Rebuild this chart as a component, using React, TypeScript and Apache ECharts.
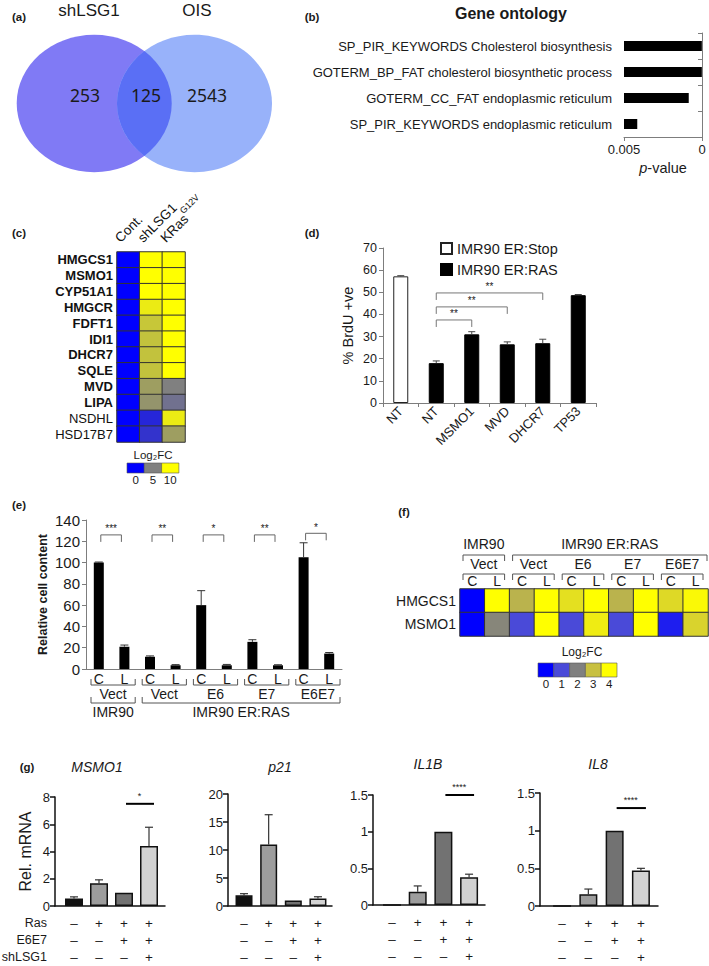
import React, { useEffect, useRef } from "react";
import * as echarts from "echarts";

const FONT = '"Liberation Sans", Arial, Helvetica, sans-serif';
const VENN_FONT = '"Noto Sans", "Liberation Sans", sans-serif';
const TXT = "#1a1a1a";
const AXIS_GRAY = "#7d7d7d";

// ---------- (a) Venn ----------
const vennSetNames = ["shLSG1", "OIS"];
const vennCounts = [253, 125, 2543]; // shLSG1 only, both, OIS only

// ---------- (b) Gene ontology ----------
const goTerms = [
  "SP_PIR_KEYWORDS Cholesterol biosynthesis",
  "GOTERM_BP_FAT cholesterol biosynthetic process",
  "GOTERM_CC_FAT endoplasmic reticulum",
  "SP_PIR_KEYWORDS endoplasmic reticulum",
];
const goPValues = [0.00001, 0.00001, 0.00085, 0.00415];
const goAxisMax = 0.005;

// ---------- (c) heatmap ----------
const cGenes = ["HMGCS1", "MSMO1", "CYP51A1", "HMGCR", "FDFT1", "IDI1", "DHCR7", "SQLE", "MVD", "LIPA", "NSDHL", "HSD17B7"];
const cBoldGenes = 10;
const cConditions = ["Cont.", "shLSG1", "KRas^G12V"];
const cCont = [0, 0, 0, 0, 0, 0, 0, 0, 0, 0, 0, 0];
const cShLSG1 = [10, 10, 10, 9.2, 7.8, 7.6, 7.6, 7.6, 6.2, 5.8, 1.5, 2];
const cKRas = [10, 10, 10, 10, 10, 10, 10, 10, 5, 4.4, 9.2, 6.2];
const cLegendTicks = ["0", "5", "10"];

// ---------- (d) BrdU ----------
const dCategories = ["NT", "NT", "MSMO1", "MVD", "DHCR7", "TP53"];
const dStop = [57.2, "-", "-", "-", "-", "-"];
const dRas = ["-", 18, 31, 26.5, 27, 48.7];
const dErr = [0.3, 1.0, 1.2, 1.1, 1.8, 0.3];
const dSigFrom = [1, 1, 1];
const dSigTo = [2, 3, 4];
const dSigLevel = [37.5, 43.4, 49.7];
const dSigStars = ["**", "**", "**"];

// ---------- (e) cell content ----------
const eLabels = ["C", "L", "C", "L", "C", "L", "C", "L", "C", "L"];
const eValues = [100, 21, 11.5, 3.5, 60, 3.5, 25.5, 3.5, 105, 14.5];
const eErr = [0.5, 1.5, 0.8, 0.6, 13.6, 0.8, 2, 0.5, 13.6, 1];
const eStars = ["***", "**", "*", "**", "*"];
const eSigLevel = [126, 126, 126, 126, 127.5];
const eVectors = ["Vect", "Vect", "E6", "E7", "E6E7"];
const eCellLines = ["IMR90", "IMR90 ER:RAS"];
const eCellLinePairs = [[0, 0], [1, 4]];

// ---------- (f) heatmap ----------
const fConditions = ["C", "L", "C", "L", "C", "L", "C", "L", "C", "L"];
const fGenes = ["HMGCS1", "MSMO1"];
const fHMGCS1 = [0, 4, 2.8, 4, 3.5, 4, 2.8, 4, 3.4, 3.9];
const fMSMO1 = [0, 2.1, 1.0, 4, 1.0, 3.7, 1.0, 4, 0.4, 3.3];
const fVectors = ["Vect", "Vect", "E6", "E7", "E6E7"];
const fCellLines = ["IMR90", "IMR90 ER:RAS"];
const fCellLinePairs = [[0, 0], [1, 4]];
const fLegendTicks = ["0", "1", "2", "3", "4"];

// ---------- (g) qPCR ----------
const gGenes = ["MSMO1", "p21", "IL1B", "IL8"];
const gConditions = [1, 2, 3, 4];
const gValues = [
  [0.55, 1.67, 0.97, 4.4],
  [1.9, 11.0, 1.0, 1.35],
  [0, 0.18, 1.0, 0.38],
  [0, 0.155, 1.0, 0.47],
];
const gErrors = [
  [0.12, 0.25, 0, 1.38],
  [0.3, 5.3, 0, 0.3],
  [0, 0.08, 0, 0.04],
  [0, 0.07, 0, 0.03],
];
const gAxisMax = [8, 20, 1.5, 1.5];
const gAxisStep = [2, 5, 0.5, 0.5];
const gSigLevel = [7.5, null, 1.5, 1.3];
const gSigStars = ["*", "", "****", "****"];
const gRowNames = ["Ras", "E6E7", "shLSG1"];
const gRas = ["–", "+", "+", "+"];
const gE6E7 = ["–", "–", "+", "+"];
const gShLSG1 = ["–", "–", "–", "+"];

// ---------- layout ----------
const VENN = { cxL: 94.2, cxR: 194.5, cy: 103.5, rx: 77.5, ry: 68.7 };
(() => {
  const dx = (VENN.cxR - VENN.cxL) / 2;
  const xm = VENN.cxL + dx;
  const dy = VENN.ry * Math.sqrt(1 - (dx / VENN.rx) ** 2);
  const d = `M ${xm} ${VENN.cy - dy} A ${VENN.rx} ${VENN.ry} 0 0 1 ${xm} ${VENN.cy + dy} A ${VENN.rx} ${VENN.ry} 0 0 1 ${xm} ${VENN.cy - dy} Z`;
  echarts.graphic.registerShape("vennLens", echarts.graphic.extendPath(d, {}) as any);
})();

const gLayout = [
  { left: 55, top: 797, width: 110, height: 109, min: 0.24, max: 4.64, barWidth: 18, tx: 97, ty: 767 },
  { left: 228, top: 794, width: 104, height: 112, min: 0.35, max: 4.57, barWidth: 17, tx: 280, ty: 767 },
  { left: 373, top: 795, width: 112, height: 110, min: 0.26, max: 4.62, barWidth: 18, tx: 428, ty: 764 },
  { left: 540, top: 793, width: 118, height: 113, min: 0.16, max: 4.65, barWidth: 18, tx: 598, ty: 764 },
];
const gBarColors = ["#111111", "#9d9d9d", "#727272", "#d2d2d2"];
const gRowOffsets = [17, 34, 51];

function txt(t: string, x: number, y: number, size: number, opts: any = {}) {
  return {
    type: "text",
    x,
    y,
    silent: true,
    style: { text: t, fontSize: size, fontFamily: FONT, fill: TXT, align: "center", verticalAlign: "middle", ...opts },
  };
}
function pline(pts: number[][], stroke = "#555", lw = 1) {
  return { type: "polyline", silent: true, shape: { points: pts }, style: { stroke, lineWidth: lw, fill: null } };
}
function seg(x1: number, y1: number, x2: number, y2: number, stroke = "#000", lw = 1) {
  return { type: "line", silent: true, shape: { x1, y1, x2, y2 }, style: { stroke, lineWidth: lw } };
}

function errorBars(capHalf: number, color: string, lw: number) {
  return (_p: any, api: any) => {
    const x = api.value(0);
    const v = api.value(1);
    const e = api.value(2);
    if (!(e > 0)) return { type: "group", children: [] };
    const a = api.coord([x, v]);
    const b = api.coord([x, v + e]);
    return {
      type: "group",
      children: [seg(a[0], a[1], b[0], b[1], color, lw), seg(b[0] - capHalf, b[1], b[0] + capHalf, b[1], color, lw)],
    };
  };
}

function buildOption() {
  const grid: any[] = [];
  const xAxis: any[] = [];
  const yAxis: any[] = [];
  const series: any[] = [];
  const visualMap: any[] = [];
  const graphic: any[] = [];

  const grayAxis = (extra: any = {}) => ({
    axisLine: { show: true, lineStyle: { color: AXIS_GRAY, width: 1 } },
    axisTick: { show: true, length: 4, lineStyle: { color: AXIS_GRAY } },
    splitLine: { show: false },
    ...extra,
  });

  // ===== (a) Venn =====
  graphic.push({ type: "ellipse", silent: true, shape: { cx: VENN.cxL, cy: VENN.cy, rx: VENN.rx, ry: VENN.ry }, style: { fill: "#807af5" } });
  graphic.push({ type: "ellipse", silent: true, shape: { cx: VENN.cxR, cy: VENN.cy, rx: VENN.rx, ry: VENN.ry }, style: { fill: "#98b2fa" } });
  graphic.push({ type: "vennLens", silent: true, x: 0, y: 0, style: { fill: "#5a6ff5" } });
  graphic.push(txt(vennSetNames[0], 89, 10, 17));
  graphic.push(txt(vennSetNames[1], 197, 10, 17));
  graphic.push(txt(String(vennCounts[0]), 85, 95, 17.5, { fontFamily: VENN_FONT }));
  graphic.push(txt(String(vennCounts[1]), 146, 95, 17.5, { fontFamily: VENN_FONT }));
  graphic.push(txt(String(vennCounts[2]), 207, 95, 17.5, { fontFamily: VENN_FONT }));

  // panel letters
  const letters: [string, number, number][] = [
    ["(a)", 19, 17], ["(b)", 312, 17], ["(c)", 19, 233], ["(d)", 312, 233],
    ["(e)", 19, 505], ["(f)", 404, 512], ["(g)", 27, 767],
  ];
  letters.forEach(([t, x, y]) => graphic.push(txt(t, x, y, 11.5, { fontWeight: "bold" })));

  // ===== (b) GO =====
  graphic.push(txt("Gene ontology", 511, 13, 16, { fontWeight: "bold" }));
  grid.push({ left: 624, top: 33, width: 78, height: 104 });
  xAxis.push({
    gridIndex: 0, type: "value", min: 0, max: goAxisMax, interval: goAxisMax, inverse: true,
    ...grayAxis(),
    axisLabel: { fontSize: 13, color: TXT, fontFamily: FONT, margin: 6 },
    name: "{i|p}-value", nameLocation: "middle", nameGap: 23,
    nameTextStyle: { fontSize: 14.5, color: TXT, fontFamily: FONT, rich: { i: { fontStyle: "italic", fontSize: 14.5, fontFamily: FONT, color: TXT } } },
  });
  yAxis.push({
    gridIndex: 0, type: "category", data: goTerms, inverse: true,
    ...grayAxis(),
    axisLabel: { interval: 0, fontSize: 13, color: TXT, fontFamily: FONT, margin: 12 },
  });
  series.push({ type: "bar", xAxisIndex: 0, yAxisIndex: 0, stack: "go", data: goPValues, barWidth: 10, silent: true, itemStyle: { color: "rgba(0,0,0,0)" } });
  series.push({ type: "bar", xAxisIndex: 0, yAxisIndex: 0, stack: "go", data: goPValues.map((p) => goAxisMax - p), barWidth: 10, itemStyle: { color: "#000" } });

  // ===== (c) heatmap =====
  grid.push({ left: 117, top: 252, width: 68, height: 190 });
  xAxis.push({
    gridIndex: 1, type: "category", data: cConditions, position: "top",
    axisLine: { show: false }, axisTick: { show: false }, splitLine: { show: false },
    axisLabel: { show: false },
  });
  yAxis.push({
    gridIndex: 1, type: "category", inverse: true,
    data: cGenes.map((g, i) => ({ value: g, textStyle: { fontWeight: i < cBoldGenes ? "bold" : "normal" } })),
    axisLine: { show: false }, axisTick: { show: false }, splitLine: { show: false },
    axisLabel: { interval: 0, fontSize: 13, color: "#111", fontFamily: FONT, margin: 4 },
  });
  const cCols = [cCont, cShLSG1, cKRas];
  const cData: number[][] = [];
  cCols.forEach((col, j) => col.forEach((v, i) => cData.push([j, i, v])));
  const cIdx = series.length;
  series.push({ type: "heatmap", xAxisIndex: 1, yAxisIndex: 1, data: cData, itemStyle: { borderColor: "#333", borderWidth: 1 }, emphasis: { disabled: true } });
  visualMap.push({ type: "continuous", show: false, seriesIndex: cIdx, dimension: 2, min: 0, max: 10, inRange: { color: ["#0000ff", "#808080", "#ffff00"] } });
  // rotated column headers
  series.push({
    type: "custom", xAxisIndex: 1, yAxisIndex: 1, silent: true, z: 5,
    data: cConditions.map((_, j) => [j, 0]),
    renderItem: (p: any, api: any) => {
      const rowH = api.size([0, 1])[1];
      const pt = api.coord([api.value(0), 0]);
      const top = pt[1] - rowH / 2;
      const [m, s] = cConditions[p.dataIndex].split("^");
      return {
        type: "text",
        x: pt[0] - 6,
        y: top - 7,
        rotation: Math.PI / 4,
        silent: true,
        style: {
          text: s ? `{m|${m}}{s|${s}}` : `{m|${m}}`,
          align: "left",
          verticalAlign: "bottom",
          rich: {
            m: { fontSize: 13.5, fontFamily: FONT, fill: "#111", lineHeight: 18, verticalAlign: "bottom" },
            s: { fontSize: 9, fontFamily: FONT, fill: "#111", lineHeight: 18, verticalAlign: "top" },
          },
        },
      };
    },
  });
  // legend (c)
  const cLegColors = ["#0000ff", "#808080", "#ffff00"];
  graphic.push(txt("Log₂FC", 153, 455, 11.5));
  cLegColors.forEach((c, k) => {
    const x = 127 + k * 17.3;
    graphic.push({ type: "rect", silent: true, shape: { x, y: 463, width: 17.3, height: 10 }, style: { fill: c, stroke: "#555", lineWidth: 0.6 } });
    graphic.push(txt(cLegendTicks[k], x + 8.65, 480, 11.5));
  });

  // ===== (d) BrdU =====
  grid.push({ left: 383, top: 248, width: 213, height: 155 });
  xAxis.push({
    gridIndex: 2, type: "category", data: dCategories, ...grayAxis(),
    axisLabel: { interval: 0, rotate: 45, fontSize: 13, color: TXT, fontFamily: FONT, margin: 6 },
  });
  yAxis.push({
    gridIndex: 2, type: "value", min: 0, max: 70, interval: 10, ...grayAxis(),
    axisLabel: { fontSize: 12.5, color: TXT, fontFamily: FONT, margin: 6 },
    name: "% BrdU +ve", nameLocation: "middle", nameGap: 28, nameRotate: 90,
    nameTextStyle: { fontSize: 14.5, color: TXT, fontFamily: FONT },
  });
  series.push({ name: "IMR90 ER:Stop", type: "bar", xAxisIndex: 2, yAxisIndex: 2, data: dStop, barWidth: 15, barGap: "-100%", itemStyle: { color: "#fff", borderColor: "#222", borderWidth: 1 } });
  series.push({ name: "IMR90 ER:RAS", type: "bar", xAxisIndex: 2, yAxisIndex: 2, data: dRas, barWidth: 15, barGap: "-100%", itemStyle: { color: "#000", borderColor: "#000", borderWidth: 1 } });
  series.push({
    type: "custom", xAxisIndex: 2, yAxisIndex: 2, silent: true, z: 5,
    data: dCategories.map((_, i) => [i, (dStop[i] !== "-" ? dStop[i] : dRas[i]) as number, dErr[i]]),
    renderItem: errorBars(3.5, "#444", 1),
  });
  series.push({
    type: "custom", xAxisIndex: 2, yAxisIndex: 2, silent: true, z: 5,
    data: dSigLevel.map((lv, i) => [dSigFrom[i], lv, dSigTo[i]]),
    renderItem: (p: any, api: any) => {
      const a = api.coord([api.value(0), api.value(1)]);
      const b = api.coord([api.value(2), api.value(1)]);
      const leg = 7;
      return {
        type: "group",
        children: [
          pline([[a[0], a[1] + leg], [a[0], a[1]], [b[0], a[1]], [b[0], a[1] + leg]], "#777", 1),
          txt(dSigStars[p.dataIndex], (a[0] + b[0]) / 2, a[1] - 6, 10),
        ],
      };
    },
  });

  // ===== (e) cell content =====
  grid.push({ left: 86, top: 520, width: 256, height: 149 });
  xAxis.push({
    gridIndex: 3, type: "category", data: eLabels,
    axisLine: { show: true, lineStyle: { color: AXIS_GRAY } }, axisTick: { show: false }, splitLine: { show: false },
    axisLabel: { interval: 0, fontSize: 14, color: TXT, fontFamily: FONT, margin: 3 },
  });
  yAxis.push({
    gridIndex: 3, type: "value", min: 0, max: 140, interval: 20, ...grayAxis(),
    axisLabel: { fontSize: 15, color: TXT, fontFamily: FONT, margin: 6 },
    name: "Relative cell content", nameLocation: "middle", nameGap: 37, nameRotate: 90,
    nameTextStyle: { fontSize: 12.5, fontWeight: "bold", color: TXT, fontFamily: FONT },
  });
  series.push({ type: "bar", xAxisIndex: 3, yAxisIndex: 3, data: eValues, barWidth: 10, itemStyle: { color: "#000" } });
  series.push({
    type: "custom", xAxisIndex: 3, yAxisIndex: 3, silent: true, z: 5,
    data: eValues.map((v, i) => [i, v, eErr[i]]),
    renderItem: errorBars(4, "#333", 1),
  });
  series.push({
    type: "custom", xAxisIndex: 3, yAxisIndex: 3, silent: true, z: 5,
    data: eStars.map((_, k) => [2 * k, eSigLevel[k], 2 * k + 1]),
    renderItem: (p: any, api: any) => {
      const a = api.coord([api.value(0), api.value(1)]);
      const b = api.coord([api.value(2), api.value(1)]);
      const l = a[0] + 2;
      const r = b[0] - 3;
      return {
        type: "group",
        children: [
          pline([[l, a[1] + 7], [l, a[1]], [r, a[1]], [r, a[1] + 7]], "#666", 1),
          txt(eStars[p.dataIndex], (l + r) / 2, a[1] - 6, 10),
        ],
      };
    },
  });
  series.push({
    type: "custom", xAxisIndex: 3, yAxisIndex: 3, silent: true, z: 5,
    data: [[0, 0]],
    renderItem: (_p: any, api: any) => {
      const band = api.size([1, 0])[0];
      const y0 = api.coord([0, 0])[1];
      const ch: any[] = [];
      eVectors.forEach((name, k) => {
        const l = api.coord([2 * k, 0])[0] - band / 2 + 5;
        const r = api.coord([2 * k + 1, 0])[0] + band / 2 - 2;
        ch.push(pline([[l, y0 + 10], [l, y0 + 16], [r, y0 + 16], [r, y0 + 10]], "#555", 1));
        ch.push(txt(name, (l + r) / 2, y0 + 25, 14));
      });
      eCellLinePairs.forEach(([p0, p1], k) => {
        const l = api.coord([2 * p0, 0])[0] - band / 2 + 5;
        const r = api.coord([2 * p1 + 1, 0])[0] + band / 2 - 2;
        ch.push(pline([[l, y0 + 28], [l, y0 + 34], [r, y0 + 34], [r, y0 + 28]], "#555", 1));
        ch.push(txt(eCellLines[k], (l + r) / 2, y0 + 43, 14));
      });
      return { type: "group", children: ch };
    },
  });

  // ===== (f) heatmap =====
  grid.push({ left: 460, top: 589, width: 248, height: 47 });
  xAxis.push({
    gridIndex: 4, type: "category", data: fConditions, position: "top",
    axisLine: { show: false }, axisTick: { show: false }, splitLine: { show: false },
    axisLabel: { interval: 0, fontSize: 14, color: TXT, fontFamily: FONT, margin: 1 },
  });
  yAxis.push({
    gridIndex: 4, type: "category", data: fGenes, inverse: true,
    axisLine: { show: false }, axisTick: { show: false }, splitLine: { show: false },
    axisLabel: { interval: 0, fontSize: 14, color: TXT, fontFamily: FONT, margin: 4 },
  });
  const fRows = [fHMGCS1, fMSMO1];
  const fData: number[][] = [];
  fRows.forEach((row, i) => row.forEach((v, j) => fData.push([j, i, v])));
  const fIdx = series.length;
  series.push({ type: "heatmap", xAxisIndex: 4, yAxisIndex: 4, data: fData, itemStyle: { borderColor: "#333", borderWidth: 1 }, emphasis: { disabled: true } });
  const fLegColors = ["#0000ff", "#4a4ad8", "#808080", "#c8c040", "#ffff00"];
  visualMap.push({ type: "continuous", show: false, seriesIndex: fIdx, dimension: 2, min: 0, max: 4, inRange: { color: fLegColors } });
  series.push({
    type: "custom", xAxisIndex: 4, yAxisIndex: 4, silent: true, z: 5,
    data: [[0, 0]],
    renderItem: (_p: any, api: any) => {
      const band = api.size([1, 0])[0];
      const rowH = api.size([0, 1])[1];
      const top = api.coord([0, 0])[1] - rowH / 2;
      const ch: any[] = [];
      fVectors.forEach((name, k) => {
        const l = api.coord([2 * k, 0])[0] - band / 2 + 3;
        const r = api.coord([2 * k + 1, 0])[0] + band / 2 - 5;
        ch.push(pline([[l, top - 9], [l, top - 15], [r, top - 15], [r, top - 9]], "#555", 1));
        ch.push(txt(name, (l + r) / 2, top - 25, 14));
      });
      fCellLinePairs.forEach(([p0, p1], k) => {
        const l = api.coord([2 * p0, 0])[0] - band / 2 + 3;
        const r = api.coord([2 * p1 + 1, 0])[0] + band / 2 - (k === 0 ? 5 : 1);
        ch.push(pline([[l, top - 28], [l, top - 34], [r, top - 34], [r, top - 28]], "#555", 1));
        ch.push(txt(fCellLines[k], (l + r) / 2, top - 45, 14));
      });
      return { type: "group", children: ch };
    },
  });
  graphic.push(txt("Log₂FC", 582, 652, 12));
  fLegColors.forEach((c, k) => {
    const x = 538 + k * 15.8;
    graphic.push({ type: "rect", silent: true, shape: { x, y: 663, width: 15.8, height: 14 }, style: { fill: c, stroke: "#555", lineWidth: 0.6 } });
    graphic.push(txt(fLegendTicks[k], x + 7.9, 684, 11.5));
  });

  // ===== (g) qPCR =====
  gGenes.forEach((gene, k) => {
    const L = gLayout[k];
    const gi = 5 + k;
    grid.push({ left: L.left, top: L.top, width: L.width, height: L.height });
    graphic.push(txt(gene, L.tx, L.ty, 14, { fontStyle: "italic" }));
    xAxis.push({
      gridIndex: gi, type: "value", min: L.min, max: L.max,
      axisLine: { show: true, lineStyle: { color: "#111", width: 1.5 } },
      axisTick: { show: false }, axisLabel: { show: false }, splitLine: { show: false },
    });
    yAxis.push({
      gridIndex: gi, type: "value", min: 0, max: gAxisMax[k], interval: gAxisStep[k],
      axisLine: { show: true, lineStyle: { color: "#111", width: 1.5 } },
      axisTick: { show: true, length: 5, lineStyle: { color: "#111", width: 1.5 } },
      splitLine: { show: false },
      axisLabel: { fontSize: 13, color: TXT, fontFamily: FONT, margin: 5 },
      ...(k === 0
        ? { name: "Rel. mRNA", nameLocation: "middle", nameGap: 22, nameRotate: 90, nameTextStyle: { fontSize: 16, color: TXT, fontFamily: FONT } }
        : {}),
    });
    series.push({
      type: "bar", xAxisIndex: gi, yAxisIndex: gi, barWidth: L.barWidth,
      data: gValues[k].map((v, i) => ({ value: [gConditions[i], v], itemStyle: { color: gBarColors[i] } })),
      itemStyle: { borderColor: "#111", borderWidth: 1.5 },
    });
    series.push({
      type: "custom", xAxisIndex: gi, yAxisIndex: gi, silent: true, z: 1,
      data: gValues[k].map((v, i) => [gConditions[i], v, gErrors[k][i]]),
      renderItem: errorBars(4, "#333", 1.2),
    });
    const lvl = gSigLevel[k];
    if (lvl !== null) {
      series.push({
        type: "custom", xAxisIndex: gi, yAxisIndex: gi, silent: true, z: 5,
        data: [[3, lvl, 4]],
        renderItem: (_p: any, api: any) => {
          const a = api.coord([api.value(0), api.value(1)]);
          const b = api.coord([api.value(2), api.value(1)]);
          return {
            type: "group",
            children: [seg(a[0] + 2, a[1], b[0] + 5, a[1], "#000", 2), txt(gSigStars[k], (a[0] + b[0]) / 2 + 3, a[1] - 8, 9)],
          };
        },
      });
    }
    series.push({
      type: "custom", xAxisIndex: gi, yAxisIndex: gi, silent: true, z: 5,
      data: gConditions.map((c) => [c, 0]),
      renderItem: (p: any, api: any) => {
        const pt = api.coord([api.value(0), 0]);
        const i = p.dataIndex;
        const y0 = api.coord([gConditions[0], 0])[1];
        return {
          type: "group",
          children: [
            txt(gRas[i], pt[0], y0 + gRowOffsets[0], 13.5),
            txt(gE6E7[i], pt[0], y0 + gRowOffsets[1], 13.5),
            txt(gShLSG1[i], pt[0], y0 + gRowOffsets[2], 13.5),
          ],
        };
      },
    });
  });
  gRowNames.forEach((n, r) => graphic.push(txt(n, 47, 906 + gRowOffsets[r], 12.5, { align: "right" })));

  return {
    animation: false,
    backgroundColor: "#ffffff",
    grid,
    xAxis,
    yAxis,
    series,
    visualMap,
    graphic,
    legend: {
      data: ["IMR90 ER:Stop", "IMR90 ER:RAS"],
      orient: "vertical", left: 435, top: 236, itemWidth: 11, itemHeight: 11, itemGap: 6,
      icon: "rect", selectedMode: false,
      textStyle: { fontSize: 14.5, color: TXT, fontFamily: FONT },
    },
  };
}

export default function App() {
  const ref = useRef<HTMLDivElement>(null);
  useEffect(() => {
    if (!ref.current) return;
    const chart = echarts.init(ref.current, null, { renderer: "svg" });
    chart.setOption(buildOption() as any);
    return () => chart.dispose();
  }, []);
  return <div ref={ref} style={{ position: "absolute", left: 0, top: 0, width: 709, height: 966, background: "#fff" }} />;
}
